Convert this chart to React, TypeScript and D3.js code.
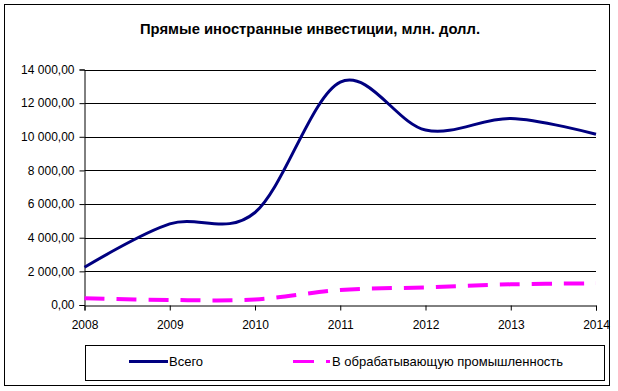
import { useEffect, useRef } from "react";
import * as d3 from "d3";

const years = [2008, 2009, 2010, 2011, 2012, 2013, 2014];
const totalValues = [2240, 4820, 5500, 13250, 10400, 11090, 10150];
const manufacturingValues = [400, 300, 330, 890, 1050, 1230, 1290];
const yTicks = [0, 2000, 4000, 6000, 8000, 10000, 12000, 14000];
const seriesNames = ["Всего", "В обрабатывающую промышленность"];

const fmt = (v: number) => {
  const s = d3.format(",.2f")(v);
  return s.replace(/,/g, " ").replace(".", ",");
};

export default function App() {
  const svgRef = useRef<SVGSVGElement>(null);

  useEffect(() => {
    if (!svgRef.current) return;
    const W = 618;
    const H = 391;
    const svg = d3.select(svgRef.current);
    svg.selectAll("*").remove();
    svg.attr("width", W).attr("height", H);

    const font = "Liberation Sans, Arial, sans-serif";

    // outer frame
    svg.append("rect")
      .attr("x", 4.5).attr("y", 4.5)
      .attr("width", 605).attr("height", 381)
      .attr("fill", "white").attr("stroke", "black").attr("stroke-width", 1);

    svg.append("text")
      .attr("x", 310).attr("y", 33.5)
      .attr("text-anchor", "middle")
      .attr("font-family", font).attr("font-weight", "bold")
      .attr("font-size", 14.8)
      .text("Прямые иностранные инвестиции, млн. долл.");

    const x = d3.scaleLinear().domain([2008, 2014]).range([84.5, 596]);
    const y = d3.scaleLinear().domain([0, 14000]).range([305, 69.5]);

    const g = svg.append("g");

    // gridlines
    g.selectAll(".grid")
      .data(yTicks.filter(t => t > 0))
      .enter().append("line")
      .attr("x1", x(2008)).attr("x2", x(2014))
      .attr("y1", d => Math.round(y(d)) + 0.5).attr("y2", d => Math.round(y(d)) + 0.5)
      .attr("stroke", "black").attr("stroke-width", 1);

    // y axis
    const yAxis = g.append("g")
      .attr("transform", `translate(${x(2008)},0)`)
      .call(d3.axisLeft(y).tickValues(yTicks).tickFormat(d => fmt(d as number)).tickSize(5).tickPadding(5));
    yAxis.select(".domain").attr("stroke", "black");
    yAxis.selectAll("text").attr("font-family", font).attr("font-size", 12).attr("fill", "black");

    // x axis
    const xAxis = g.append("g")
      .attr("transform", `translate(0,${Math.round(y(0)) + 0.5})`)
      .call(d3.axisBottom(x).tickValues(years).tickFormat(d3.format("d")).tickSize(5).tickPadding(10));
    xAxis.select(".domain").attr("stroke", "black");
    xAxis.selectAll("text").attr("font-family", font).attr("font-size", 12).attr("fill", "black");

    const line = d3.line<number>()
      .x((_, i) => x(years[i]))
      .y(d => y(d))
      .curve(d3.curveCardinal.tension(0));

    g.append("path")
      .datum(manufacturingValues)
      .attr("d", line)
      .attr("fill", "none")
      .attr("stroke", "#FF00FF")
      .attr("stroke-width", 4)
      .attr("stroke-dasharray", "20,12");

    g.append("path")
      .datum(totalValues)
      .attr("d", line)
      .attr("fill", "none")
      .attr("stroke", "#000080")
      .attr("stroke-width", 3);

    // legend
    const lg = svg.append("g");
    lg.append("rect")
      .attr("x", 85.5).attr("y", 345.5)
      .attr("width", 519).attr("height", 35)
      .attr("fill", "white").attr("stroke", "black");
    lg.append("line")
      .attr("x1", 129).attr("x2", 168).attr("y1", 361.5).attr("y2", 361.5)
      .attr("stroke", "#000080").attr("stroke-width", 3);
    lg.append("text")
      .attr("x", 169).attr("y", 366)
      .attr("font-family", font).attr("font-size", 13)
      .text(seriesNames[0]);
    lg.append("line")
      .attr("x1", 293).attr("x2", 330).attr("y1", 361.5).attr("y2", 361.5)
      .attr("stroke", "#FF00FF").attr("stroke-width", 3)
      .attr("stroke-dasharray", "21,12");
    lg.append("text")
      .attr("x", 332).attr("y", 366)
      .attr("font-family", font).attr("font-size", 13)
      .text(seriesNames[1]);
  }, []);

  return <svg ref={svgRef} style={{ position: "absolute", left: 0, top: 0 }} />;
}
